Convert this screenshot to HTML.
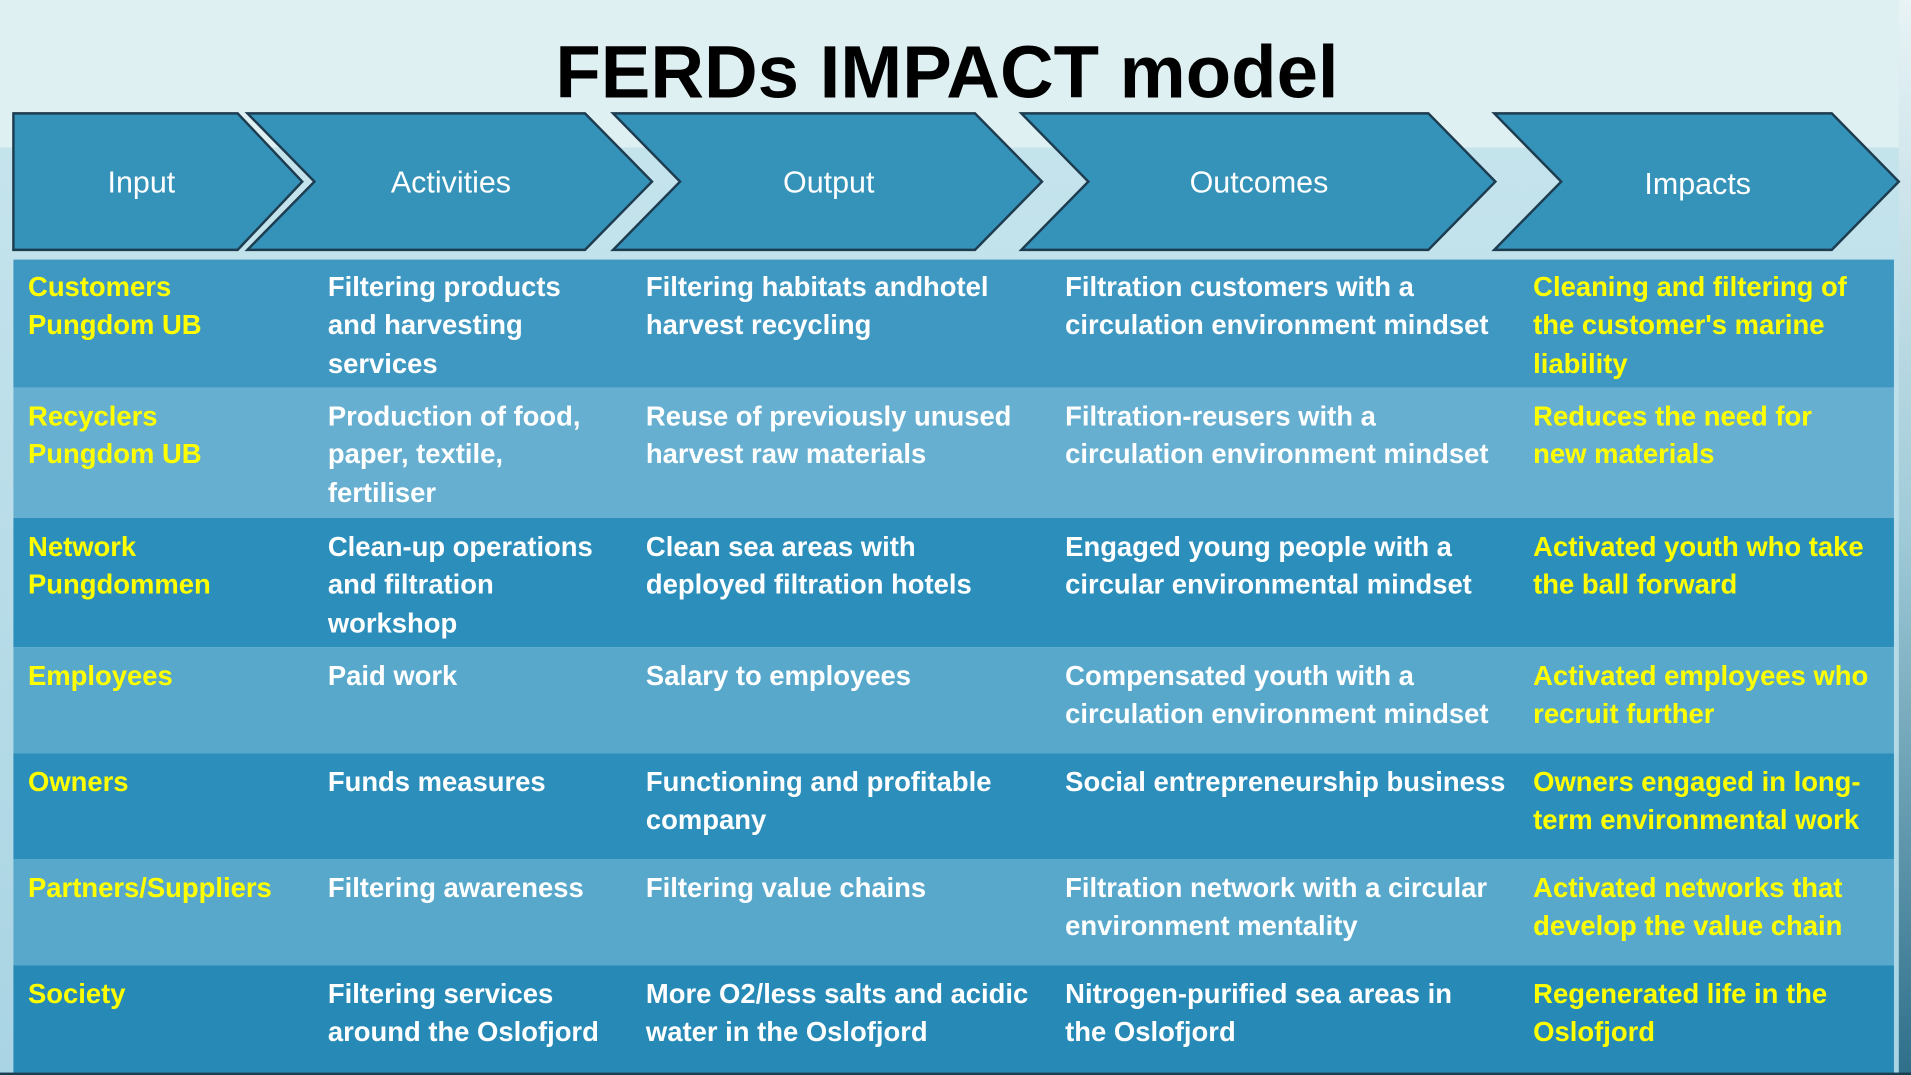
<!DOCTYPE html>
<html><head><meta charset="utf-8"><style>
html,body{margin:0;padding:0;width:1911px;height:1075px;overflow:hidden;background:#c4e2ea}
svg{display:block}
.t{font-family:"Liberation Sans Narrow","Liberation Sans",sans-serif;font-weight:bold;font-size:22.5px}
.w{fill:#ffffff}.y{fill:#ffff00}
.h{font-family:"Liberation Sans",sans-serif;font-size:25px;fill:#fff;text-anchor:middle}
</style></head><body>
<svg width="1911" height="1075" viewBox="0 0 1568 882" preserveAspectRatio="none" xmlns="http://www.w3.org/2000/svg">
<defs>
<linearGradient id="bg" x1="0" y1="0" x2="0" y2="1">
<stop offset="0" stop-color="#c9e6ee"/><stop offset="1" stop-color="#a9d4e3"/></linearGradient>
<linearGradient id="rs" x1="0" y1="0" x2="0" y2="1">
<stop offset="0" stop-color="#e8f3f5"/><stop offset="0.5" stop-color="#9fcad8"/><stop offset="1" stop-color="#2f6f8a"/></linearGradient>
</defs>
<rect width="1568" height="882" fill="url(#bg)"/>
<rect x="0" y="0" width="1558" height="121" fill="#dff0f3"/>
<rect x="1558" y="0" width="10" height="882" fill="url(#rs)"/>
<text x="777" y="80" text-anchor="middle" font-family="Liberation Sans Narrow, Liberation Sans, sans-serif" font-weight="bold" font-size="61" fill="#000">FERDs IMPACT model</text>
<g fill="#3593b9" stroke="#1d3c50" stroke-width="2">
<polygon points="11,93 195,93 248,149 195,205 11,205"/>
<polygon points="203,93 480,93 535,149 480,205 203,205 258,149"/>
<polygon points="503,93 800,93 855,149 800,205 503,205 558,149"/>
<polygon points="838,93 1172,93 1227,149 1172,205 838,205 893,149"/>
<polygon points="1226,93 1503,93 1558,149 1503,205 1226,205 1281,149"/>
</g>
<text class="h" x="116" y="158">Input</text>
<text class="h" x="370" y="158">Activities</text>
<text class="h" x="680" y="158">Output</text>
<text class="h" x="1033" y="158">Outcomes</text>
<text class="h" x="1393" y="159">Impacts</text>
<rect x="11" y="213" width="1543" height="105" fill="#3f98c2"/>
<rect x="11" y="318" width="1543" height="107" fill="#66afd0"/>
<rect x="11" y="425" width="1543" height="106" fill="#2b8ebb"/>
<rect x="11" y="531" width="1543" height="87" fill="#58a8cc"/>
<rect x="11" y="618" width="1543" height="87" fill="#2b8ebb"/>
<rect x="11" y="705" width="1543" height="87" fill="#58a8cc"/>
<rect x="11" y="792" width="1543" height="88" fill="#2689b6"/>
<rect x="0" y="880" width="1568" height="2" fill="#1b3f52"/>
<g class="t">
<text class="y" x="23" y="243">Customers</text><text class="y" x="23" y="274">Pungdom UB</text>
<text class="w" x="269" y="243">Filtering products</text><text class="w" x="269" y="274">and harvesting</text><text class="w" x="269" y="306">services</text>
<text class="w" x="530" y="243">Filtering habitats andhotel</text><text class="w" x="530" y="274">harvest recycling</text>
<text class="w" x="874" y="243">Filtration customers with a</text><text class="w" x="874" y="274">circulation environment mindset</text>
<text class="y" x="1258" y="243">Cleaning and filtering of</text><text class="y" x="1258" y="274">the customer's marine</text><text class="y" x="1258" y="306">liability</text>

<text class="y" x="23" y="349">Recyclers</text><text class="y" x="23" y="380">Pungdom UB</text>
<text class="w" x="269" y="349">Production of food,</text><text class="w" x="269" y="380">paper, textile,</text><text class="w" x="269" y="412">fertiliser</text>
<text class="w" x="530" y="349">Reuse of previously unused</text><text class="w" x="530" y="380">harvest raw materials</text>
<text class="w" x="874" y="349">Filtration-reusers with a</text><text class="w" x="874" y="380">circulation environment mindset</text>
<text class="y" x="1258" y="349">Reduces the need for</text><text class="y" x="1258" y="380">new materials</text>

<text class="y" x="23" y="456">Network</text><text class="y" x="23" y="487">Pungdommen</text>
<text class="w" x="269" y="456">Clean-up operations</text><text class="w" x="269" y="487">and filtration</text><text class="w" x="269" y="519">workshop</text>
<text class="w" x="530" y="456">Clean sea areas with</text><text class="w" x="530" y="487">deployed filtration hotels</text>
<text class="w" x="874" y="456">Engaged young people with a</text><text class="w" x="874" y="487">circular environmental mindset</text>
<text class="y" x="1258" y="456">Activated youth who take</text><text class="y" x="1258" y="487">the ball forward</text>

<text class="y" x="23" y="562">Employees</text>
<text class="w" x="269" y="562">Paid work</text>
<text class="w" x="530" y="562">Salary to employees</text>
<text class="w" x="874" y="562">Compensated youth with a</text><text class="w" x="874" y="593">circulation environment mindset</text>
<text class="y" x="1258" y="562">Activated employees who</text><text class="y" x="1258" y="593">recruit further</text>

<text class="y" x="23" y="649">Owners</text>
<text class="w" x="269" y="649">Funds measures</text>
<text class="w" x="530" y="649">Functioning and profitable</text><text class="w" x="530" y="680">company</text>
<text class="w" x="874" y="649">Social entrepreneurship business</text>
<text class="y" x="1258" y="649">Owners engaged in long-</text><text class="y" x="1258" y="680">term environmental work</text>

<text class="y" x="23" y="736">Partners/Suppliers</text>
<text class="w" x="269" y="736">Filtering awareness</text>
<text class="w" x="530" y="736">Filtering value chains</text>
<text class="w" x="874" y="736">Filtration network with a circular</text><text class="w" x="874" y="767">environment mentality</text>
<text class="y" x="1258" y="736">Activated networks that</text><text class="y" x="1258" y="767">develop the value chain</text>

<text class="y" x="23" y="823">Society</text>
<text class="w" x="269" y="823">Filtering services</text><text class="w" x="269" y="854">around the Oslofjord</text>
<text class="w" x="530" y="823">More O2/less salts and acidic</text><text class="w" x="530" y="854">water in the Oslofjord</text>
<text class="w" x="874" y="823">Nitrogen-purified sea areas in</text><text class="w" x="874" y="854">the Oslofjord</text>
<text class="y" x="1258" y="823">Regenerated life in the</text><text class="y" x="1258" y="854">Oslofjord</text>
</g>
</svg>
</body></html>
